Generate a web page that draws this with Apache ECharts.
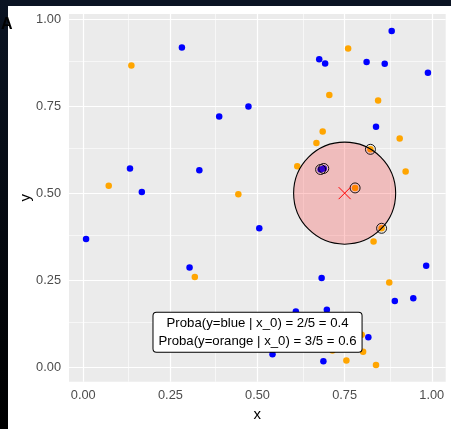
<!DOCTYPE html>
<html>
<head>
<meta charset="utf-8">
<script src="https://cdn.jsdelivr.net/npm/echarts@6/dist/echarts.min.js"></script>
<style>
    html, body { margin: 0; padding: 0; background: #fff; }
    #main { width: 451px; height: 429px; }
</style>
</head>
<body>
<div id="main"></div>
<script>
    // points of class "blue"
    var blueX = [0.283, 0.134, 0.168, 0.677, 0.694, 0.474, 0.390, 0.333, 0.681, 0.690,
                 0.885, 0.813, 0.865, 0.989, 0.840, 0.008, 0.305, 0.505, 0.684, 0.610,
                 0.543, 0.689, 0.984, 0.894, 0.947, 0.699, 0.818];
    var blueY = [0.919, 0.571, 0.503, 0.885, 0.873, 0.749, 0.720, 0.566, 0.568, 0.571,
                 0.966, 0.877, 0.872, 0.846, 0.691, 0.368, 0.286, 0.399, 0.256, 0.160,
                 0.037, 0.017, 0.291, 0.190, 0.198, 0.165, 0.086];
    // points of class "orange"
    var orangeX = [0.138, 0.073, 0.687, 0.669, 0.614, 0.445, 0.760, 0.706, 0.846, 0.908,
                   0.824, 0.925, 0.780, 0.320, 0.856, 0.833, 0.878, 0.799, 0.715, 0.803,
                   0.755, 0.840];
    var orangeY = [0.867, 0.521, 0.677, 0.644, 0.577, 0.497, 0.916, 0.782, 0.766, 0.657,
                   0.626, 0.562, 0.515, 0.259, 0.399, 0.361, 0.243, 0.093, 0.048, 0.044,
                   0.019, 0.006];
    // query point x_0 and number of neighbours
    var queryPoint = [0.75, 0.5];
    var k = 5;
    var labelPos = [0.5, 0.1];
    var tickValues = [0, 0.25, 0.5, 0.75, 1];
    var minorValues = [0.125, 0.375, 0.625, 0.875];

    var pts = [];
    blueX.forEach(function (x, i) { pts.push({x: x, y: blueY[i], cls: 'blue'}); });
    orangeX.forEach(function (x, i) { pts.push({x: x, y: orangeY[i], cls: 'orange'}); });
    pts.forEach(function (p) {
        p.d = Math.sqrt(Math.pow(p.x - queryPoint[0], 2) + Math.pow(p.y - queryPoint[1], 2));
    });
    var neighbours = pts.slice().sort(function (a, b) { return a.d - b.d; }).slice(0, k);
    var radius = neighbours[k - 1].d;
    var nBlue = neighbours.filter(function (p) { return p.cls === 'blue'; }).length;
    var nOrange = k - nBlue;
    var labelText = 'Proba(y=blue | x_0) = ' + nBlue + '/' + k + ' = ' + (nBlue / k) +
        '\nProba(y=orange | x_0) = ' + nOrange + '/' + k + ' = ' + (nOrange / k);

    var blueData = blueX.map(function (x, i) { return [x, blueY[i]]; });
    var orangeData = orangeX.map(function (x, i) { return [x, orangeY[i]]; });
    var ringData = neighbours.map(function (p) { return [p.x, p.y]; });

    var gridLines = [];
    tickValues.forEach(function (v) {
        gridLines.push({xAxis: v, lineStyle: {width: 1.2}});
        gridLines.push({yAxis: v, lineStyle: {width: 1.2}});
    });
    minorValues.forEach(function (v) {
        gridLines.push({xAxis: v, lineStyle: {width: 0.6}});
        gridLines.push({yAxis: v, lineStyle: {width: 0.6}});
    });

    var font = 'Liberation Sans';
    var chart = echarts.init(document.getElementById('main'));
    var option = {
        animation: false,
        textStyle: {fontFamily: font},
        graphic: [
            {type: 'rect', left: 0, top: 0, shape: {width: 451, height: 6}, style: {fill: '#0b1423'}, z: 100},
            {type: 'rect', left: 0, top: 0, shape: {width: 8, height: 429},
                style: {fill: new echarts.graphic.LinearGradient(0, 0, 0, 1, [
                    {offset: 0, color: '#0b1423'}, {offset: 1, color: '#000000'}])}, z: 100},
            {type: 'text', left: 1, top: 17, style: {text: 'A', font: 'bold 16px ' + font, fill: '#000'}, z: 101}
        ],
        grid: {
            left: 69, right: 5.3, top: 14, bottom: 47.3,
            show: true, backgroundColor: '#EBEBEB', borderWidth: 0
        },
        xAxis: {
            type: 'value', min: -0.041, max: 1.040,
            name: 'x', nameLocation: 'middle', nameGap: 26, nameMoveOverlap: false,
            nameTextStyle: {fontSize: 15, color: '#000', fontFamily: font},
            axisLine: {show: false},
            axisTick: {show: true, customValues: tickValues, length: 3.5, lineStyle: {color: '#333', width: 1}},
            axisLabel: {customValues: tickValues, margin: 7, fontSize: 12.8, color: '#4D4D4D',
                formatter: function (v) { return v.toFixed(2); }},
            splitLine: {show: false}
        },
        yAxis: {
            type: 'value', min: -0.042, max: 1.015,
            name: 'y', nameLocation: 'middle', nameGap: 36, nameRotate: 90, nameMoveOverlap: false,
            nameTextStyle: {fontSize: 15, color: '#000', fontFamily: font},
            axisLine: {show: false},
            axisTick: {show: true, customValues: tickValues, length: 3.5, lineStyle: {color: '#333', width: 1}},
            axisLabel: {customValues: tickValues, margin: 8, fontSize: 12.8, color: '#4D4D4D',
                formatter: function (v) { return v.toFixed(2); }},
            splitLine: {show: false}
        },
        series: [
            {
                name: 'blue', type: 'scatter', z: 2, symbolSize: 6.5,
                itemStyle: {color: '#0000FF', opacity: 1},
                data: blueData,
                markLine: {
                    silent: true, symbol: 'none', z: 1, label: {show: false},
                    lineStyle: {color: '#FFFFFF', type: 'solid'},
                    data: gridLines
                }
            },
            {
                name: 'orange', type: 'scatter', z: 2, symbolSize: 6.5,
                itemStyle: {color: '#FFA500', opacity: 1},
                data: orangeData
            },
            {
                name: 'circle', type: 'custom', z: 3,
                data: [[queryPoint[0], queryPoint[1], radius]],
                renderItem: function (params, api) {
                    var c = api.coord([api.value(0), api.value(1)]);
                    var r = api.size([api.value(2), 0])[0];
                    return {
                        type: 'circle',
                        shape: {cx: c[0], cy: c[1], r: r},
                        style: {fill: 'rgba(255,0,0,0.2)', stroke: '#000', lineWidth: 1.1}
                    };
                }
            },
            {
                name: 'neighbours', type: 'scatter', z: 4, symbolSize: 10,
                itemStyle: {color: 'rgba(0,0,0,0)', borderColor: '#000', borderWidth: 0.9, opacity: 1},
                data: ringData
            },
            {
                name: 'x0', type: 'custom', z: 5,
                data: [queryPoint],
                renderItem: function (params, api) {
                    var c = api.coord([api.value(0), api.value(1)]);
                    var h = 6;
                    return {
                        type: 'group',
                        children: [
                            {type: 'line', shape: {x1: c[0] - h, y1: c[1] - h, x2: c[0] + h, y2: c[1] + h},
                                style: {stroke: '#FF0000', lineWidth: 1}},
                            {type: 'line', shape: {x1: c[0] - h, y1: c[1] + h, x2: c[0] + h, y2: c[1] - h},
                                style: {stroke: '#FF0000', lineWidth: 1}}
                        ]
                    };
                }
            },
            {
                name: 'label', type: 'custom', z: 6,
                data: [labelPos],
                renderItem: function (params, api) {
                    var c = api.coord([api.value(0), api.value(1)]);
                    return {
                        type: 'text',
                        x: c[0], y: c[1],
                        style: {
                            text: labelText,
                            align: 'center', verticalAlign: 'middle',
                            font: '13.2px ' + font, fill: '#000',
                            lineHeight: 17.5,
                            backgroundColor: '#FFFFFF', borderColor: '#000', borderWidth: 1,
                            borderRadius: 3, padding: [2, 5, 2, 5]
                        }
                    };
                }
            }
        ]
    };
    chart.setOption(option);
</script>
</body>
</html>
